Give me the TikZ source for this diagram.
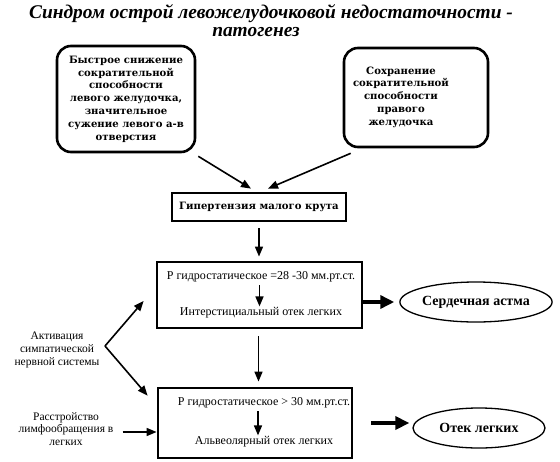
\documentclass[tikz,border=0pt]{standalone}
\usepackage{fontspec}
\setmainfont{Liberation Serif}
\newfontfamily\boxfont{DejaVu Serif}
\usetikzlibrary{arrows.meta,calc,shapes.geometric}
\begin{document}
\begin{tikzpicture}[x=1pt,y=-1pt,
 rbox/.style={draw, rounded corners=14pt, line width=2.6pt, inner sep=0pt},
 sqbox/.style={draw, line width=2.8pt, inner sep=0pt},
 boldtxt/.style={font=\boxfont\bfseries\fontsize{10.1}{12.8}\selectfont, align=center, inner sep=0pt},
 plain/.style={font=\fontsize{12}{13}\selectfont, align=center, inner sep=0pt},
 side/.style={font=\fontsize{11.5}{12.8}\selectfont, align=center, inner sep=0pt},
 ell/.style={draw, ellipse, line width=1.3pt, minimum width=132pt, minimum height=40pt, inner sep=0pt, font=\bfseries\fontsize{14}{16}\selectfont},
 arr/.style={line width=1.6pt, -{Triangle[length=10pt,width=8pt]}},
 thickarr/.style={line width=4pt, -{Triangle[length=14pt,width=13pt]}},
 ttl/.style={font=\bfseries\itshape\fontsize{19.4}{22}\selectfont, inner sep=0pt, anchor=base}
]
\useasboundingbox (0,0) rectangle (560,461);

\node[ttl] (t1) at (271,18) {Синдром острой левожелудочковой недостаточности -};
\node[ttl] (t2) at (256,36.5) {патогенез};

\node[rbox, boldtxt, minimum width=138pt, minimum height=106pt] (b1) at (126,99)
 {Быстрое снижение\\сократительной\\способности\\левого желудочка,\\значительное\\сужение левого а-в\\отверстия};

\node[rbox, minimum width=144pt, minimum height=99pt] (b2) at (416,97.5) {};
\node[boldtxt] (b2t) at (401,97) {Сохранение\\сократительной\\способности\\правого\\желудочка};

\node[sqbox, boldtxt, minimum width=174pt, minimum height=28pt] (hyp) at (259,207) {Гипертензия малого крута};

\node[sqbox, minimum width=205pt, minimum height=66pt] (pbox) at (259.5,295) {};
\node[plain] (p1) at (261,277) {Р гидростатическое =28 -30 мм.рт.ст.};
\node[plain] (i1) at (261,313) {Интерстициальный отек легких};

\node[sqbox, minimum width=194pt, minimum height=70pt] (b3) at (255,423) {};
\node[plain] (p2) at (264,403) {Р гидростатическое > 30 мм.рт.ст.};
\node[plain] (a2) at (264,442) {Альвеолярный отек легких};

\node[ell] (e1) at (476,302) {Сердечная астма};
\node[ell] (e2) at (479,428) {Отек легких};

\node[side] (act) at (57,350) {Активация\\симпатической\\нервной системы};
\node[side] (lym) at (66,429) {Расстройство\\лимфообращения в\\легких};

\coordinate (v) at (105,346);

% connectors
\draw[arr] ([xshift=2pt,yshift=-3pt]b1.south east) -- ([xshift=-8pt,yshift=3pt]hyp.north);
\draw[arr] ([xshift=8pt,yshift=-5pt]b2.south west) -- ([xshift=9pt,yshift=3pt]hyp.north);
\draw[arr, shorten <=6pt, shorten >=4pt] (hyp.south) -- (hyp.south |- pbox.north);
\draw[arr, shorten <=3pt, shorten >=1pt] (p1.south -| pbox.center) -- (i1.north -| pbox.center);
\draw[arr, shorten <=7pt, shorten >=5pt] ([xshift=-1pt]pbox.south) -- ([xshift=-1pt]pbox.south |- b3.north);
\draw[arr, shorten <=3pt, shorten >=1pt] ([xshift=3pt]p2.south -| b3.center) -- ([xshift=3pt]a2.north -| b3.center);
\draw[thickarr] (pbox.east |- e1.west) -- ([xshift=-5pt]e1.west);
\draw[thickarr] ([xshift=18pt]b3.east) -- ([xshift=-3pt]b3.east -| e2.west);
\draw[arr, line join=round] (v) -- ([xshift=-12pt,yshift=-6pt]pbox.west);
\draw[arr, line join=round] (v) -- ([xshift=-9pt,yshift=-9pt]b3.north west);
\draw[arr, shorten <=9pt] ([yshift=-3pt]lym.east) -- ([yshift=-3pt]lym.east -| b3.west);
\end{tikzpicture}
\end{document}
